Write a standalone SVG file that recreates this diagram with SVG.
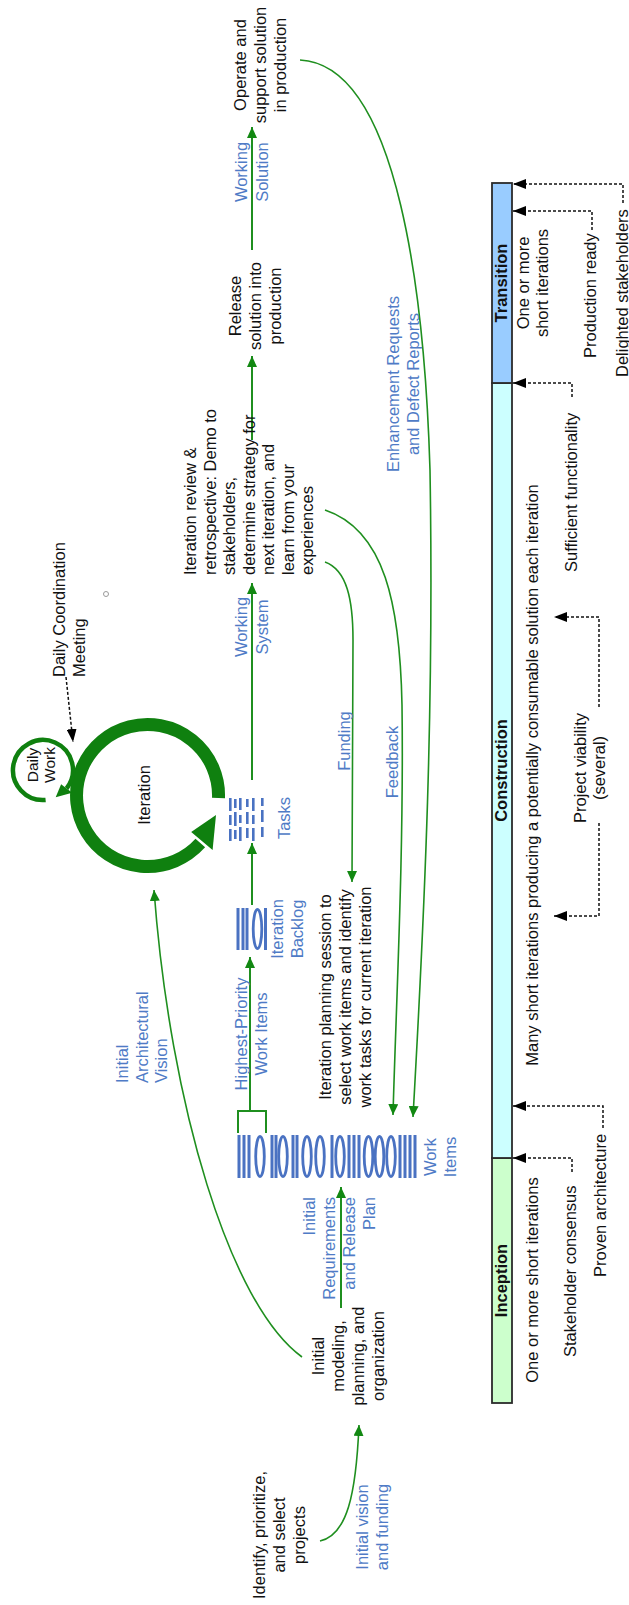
<svg xmlns="http://www.w3.org/2000/svg" width="629" height="1605" viewBox="0 0 629 1605">
<defs>
<style>
text { font-family: "Liberation Sans", Arial, sans-serif; font-size: 16.5px; fill: #111; }
.lbl { fill: #4f7bc6; }
.hdr { font-weight: bold; }
.c { text-anchor: middle; }
.e { text-anchor: end; }
.flow { fill: none; stroke: #1f8f1f; stroke-width: 2; marker-end: url(#ga); }
.curve { fill: none; stroke: #1f8f1f; stroke-width: 1.6; marker-end: url(#ga); }
.dash { fill: none; stroke: #111; stroke-width: 1.5; stroke-dasharray: 3 2; marker-end: url(#ba); }
.bar { fill: #4a72c2; }
.oval { fill: none; stroke: #4a72c2; stroke-width: 2.8; }
.phase { stroke: #2b2b2b; stroke-width: 1.8; }
.loop { fill: none; stroke: #0f800f; }
</style>
<marker id="ga" viewBox="0 0 11 10" refX="11" refY="5" markerWidth="11" markerHeight="10" markerUnits="userSpaceOnUse" orient="auto"><path d="M0,0 L11,5 L0,10 z" fill="#128812"/></marker>
<marker id="ba" viewBox="0 0 13 10" refX="13" refY="5" markerWidth="13" markerHeight="10" markerUnits="userSpaceOnUse" orient="auto"><path d="M0,0 L13,5 L0,10 z" fill="#000"/></marker>
</defs>
<rect width="629" height="1605" fill="#fff"/>

<!-- The lifecycle is laid out landscape (1605 x 629) and turned a quarter left -->
<g transform="translate(0,1605) rotate(-90)">

<g id="connectors">
  <path class="curve" d="M64,320 C70,347 110,356 180,359"/>
  <path class="curve" d="M248,302 C300,230 500,170 715,154"/>
  <path class="flow" d="M297,341 L418,341"/>
  <path fill="none" stroke="#1f8f1f" stroke-width="2" d="M472,238 L494,238 L494,266 L472,266"/>
  <path class="flow" d="M494,250 L648,250"/>
  <path class="flow" d="M700,252 L762,252"/>
  <path class="flow" d="M825,252 L1022,252"/>
  <path class="flow" d="M1165,252 L1249,252"/>
  <path class="flow" d="M1355,252 L1478,252"/>
  <path class="curve" d="M1545,300 C1540,400 1300,425 1135,430 C900,434 700,425 488,413"/>
  <path class="curve" d="M1095,325 C1075,385 1000,400 900,402 C750,404 600,396 490,393"/>
  <path class="curve" d="M1043,325 C1035,347 1005,353 965,353 L723,352"/>
  <path class="dash" d="M928,66 L863,73"/>
  <path class="dash" d="M433,572 L447,572 L447,513"/>
  <path class="dash" d="M477,603 L499,603 L499,513"/>
  <path class="dash" d="M782,599 L689,599 L689,554"/>
  <path class="dash" d="M898,599 L988,599 L988,554"/>
  <path class="dash" d="M1208,572 L1222,572 L1222,513"/>
  <path class="dash" d="M1375,592 L1394,592 L1394,513"/>
  <path class="dash" d="M1402,623 L1421,623 L1421,513"/>
</g>

<g id="identify-projects">
  <text class="c" x="70" y="265">Identify, prioritize,</text>
  <text class="c" x="70" y="285">and select</text>
  <text class="c" x="70" y="305">projects</text>
</g>
<g id="label-initial-vision">
  <text class="c lbl" x="78" y="368">Initial vision</text>
  <text class="c lbl" x="78" y="388">and funding</text>
</g>

<g id="initial-modeling">
  <text class="c" x="249" y="324">Initial</text>
  <text class="c" x="249" y="344">modeling,</text>
  <text class="c" x="249" y="364">planning, and</text>
  <text class="c" x="249" y="384">organization</text>
</g>
<g id="label-initial-requirements">
  <text class="e lbl" x="408" y="315">Initial</text>
  <text class="e lbl" x="408" y="335">Requirements</text>
  <text class="e lbl" x="408" y="355">and Release</text>
  <text class="e lbl" x="408" y="375">Plan</text>
</g>
<g id="label-architectural-vision">
  <text class="lbl" x="522" y="128">Initial</text>
  <text class="lbl" x="522" y="148">Architectural</text>
  <text class="lbl" x="522" y="167">Vision</text>
</g>

<g id="work-items">
  <rect class="bar" x="427" y="237.5" width="43" height="3"/>
  <rect class="bar" x="427" y="242.5" width="43" height="3"/>
  <rect class="bar" x="427" y="247.5" width="43" height="3"/>
  <ellipse class="oval" cx="448.5" cy="260" rx="20" ry="4.3"/>
  <rect class="bar" x="427" y="270.5" width="43" height="3"/>
  <rect class="bar" x="427" y="274.5" width="43" height="3"/>
  <ellipse class="oval" cx="448.5" cy="283" rx="20" ry="4.3"/>
  <rect class="bar" x="427" y="291.5" width="43" height="3"/>
  <rect class="bar" x="427" y="295.5" width="43" height="3"/>
  <ellipse class="oval" cx="448.5" cy="307" rx="20" ry="4.3"/>
  <ellipse class="oval" cx="448.5" cy="320" rx="20" ry="4.3"/>
  <rect class="bar" x="427" y="330.5" width="43" height="3"/>
  <ellipse class="oval" cx="448.5" cy="340" rx="20" ry="4.3"/>
  <rect class="bar" x="427" y="347.5" width="43" height="3"/>
  <rect class="bar" x="427" y="352.5" width="43" height="3"/>
  <rect class="bar" x="427" y="357.5" width="43" height="3"/>
  <ellipse class="oval" cx="448.5" cy="368.5" rx="20" ry="4.3"/>
  <ellipse class="oval" cx="448.5" cy="379.5" rx="20" ry="4.3"/>
  <ellipse class="oval" cx="448.5" cy="391" rx="20" ry="4.3"/>
  <rect class="bar" x="427" y="398.5" width="43" height="3"/>
  <rect class="bar" x="427" y="403.5" width="43" height="3"/>
  <rect class="bar" x="427" y="408.5" width="43" height="3"/>
  <rect class="bar" x="427" y="413.5" width="43" height="3"/>
  <text class="c lbl" x="448" y="436">Work</text>
  <text class="c lbl" x="448" y="456">Items</text>
</g>

<g id="label-highest-priority">
  <text class="c lbl" x="571" y="247">Highest-Priority</text>
  <text class="c lbl" x="571" y="267">Work Items</text>
</g>

<g id="planning-session">
  <text class="c" x="608" y="331">Iteration planning session to</text>
  <text class="c" x="608" y="351">select work items and identify</text>
  <text class="c" x="608" y="371">work tasks for current iteration</text>
</g>

<g id="iteration-backlog">
  <rect class="bar" x="655" y="236.5" width="42" height="3"/>
  <rect class="bar" x="655" y="241.5" width="42" height="3"/>
  <rect class="bar" x="655" y="245.5" width="42" height="3"/>
  <ellipse class="oval" cx="676" cy="257.5" rx="19.5" ry="4.3"/>
  <rect class="bar" x="655" y="264" width="42" height="3"/>
  <text class="c lbl" x="676" y="283">Iteration</text>
  <text class="c lbl" x="676" y="303">Backlog</text>
</g>

<g id="tasks">
  <rect class="bar" x="764" y="229" width="12" height="2.6"/>
  <rect class="bar" x="780" y="229" width="10" height="2.6"/>
  <rect class="bar" x="794" y="229" width="13" height="2.6"/>
  <rect class="bar" x="766" y="234" width="9" height="2.6"/>
  <rect class="bar" x="779" y="234" width="14" height="2.6"/>
  <rect class="bar" x="797" y="234" width="9" height="2.6"/>
  <rect class="bar" x="764" y="239" width="14" height="2.6"/>
  <rect class="bar" x="782" y="239" width="8" height="2.6"/>
  <rect class="bar" x="795" y="239" width="12" height="2.6"/>
  <rect class="bar" x="767" y="246" width="10" height="2.6"/>
  <rect class="bar" x="781" y="246" width="12" height="2.6"/>
  <rect class="bar" x="798" y="246" width="8" height="2.6"/>
  <rect class="bar" x="764" y="252" width="13" height="2.6"/>
  <rect class="bar" x="781" y="252" width="9" height="2.6"/>
  <rect class="bar" x="794" y="252" width="13" height="2.6"/>
  <rect class="bar" x="768" y="261" width="10" height="2.6"/>
  <rect class="bar" x="783" y="261" width="12" height="2.6"/>
  <rect class="bar" x="799" y="261" width="8" height="2.6"/>
  <text class="c lbl" x="787" y="290">Tasks</text>
</g>

<g id="iteration">
  <path class="loop" stroke-width="13" d="M807.0,218.5 A71,71 0 1 0 762.0,200.3"/>
  <path fill="#0f800f" d="M772.9,191.2 L754.9,212.6 L790,216 z"/>
  <text class="c" x="810" y="150">Iteration</text>
</g>

<g id="daily-work">
  <path class="loop" stroke-width="4.5" d="M805.1,45.6 A30,30 0 1 1 816.5,66.6"/>
  <path fill="#0f800f" d="M820.8,61.1 L812.2,72.2 L807.8,55.7 z"/>
  <text class="c" x="840" y="38" style="font-size:15.5px">Daily</text>
  <text class="c" x="840" y="55" style="font-size:15.5px">Work</text>
</g>

<g id="daily-coordination">
  <text x="928" y="65">Daily Coordination</text>
  <text x="928" y="85">Meeting</text>
</g>

<circle cx="1011" cy="106" r="2.5" fill="none" stroke="#9a9a9a" stroke-width="1"/>

<g id="label-working-system">
  <text class="c lbl" x="978" y="247">Working</text>
  <text class="c lbl" x="978" y="268">System</text>
</g>

<g id="iteration-review">
  <text x="1030" y="196">Iteration review &amp;</text>
  <text x="1030" y="215.5">retrospective: Demo to</text>
  <text x="1030" y="235">stakeholders,</text>
  <text x="1030" y="254.5">determine strategy for</text>
  <text x="1030" y="274">next iteration, and</text>
  <text x="1030" y="293.5">learn from your</text>
  <text x="1030" y="313">experiences</text>
</g>

<g id="label-funding"><text class="c lbl" x="864" y="350">Funding</text></g>
<g id="label-feedback"><text class="c lbl" x="843" y="398">Feedback</text></g>

<g id="release">
  <text class="c" x="1299" y="241">Release</text>
  <text class="c" x="1299" y="261">solution into</text>
  <text class="c" x="1299" y="281">production</text>
</g>

<g id="label-working-solution">
  <text class="c lbl" x="1433" y="247">Working</text>
  <text class="c lbl" x="1433" y="268">Solution</text>
</g>

<g id="operate">
  <text class="c" x="1540" y="246">Operate and</text>
  <text class="c" x="1540" y="266">support solution</text>
  <text class="c" x="1540" y="286">in production</text>
</g>

<g id="label-enhancement">
  <text class="c lbl" x="1221" y="399">Enhancement Requests</text>
  <text class="c lbl" x="1221" y="419">and Defect Reports</text>
</g>

<g id="phase-inception">
  <rect class="phase" x="202" y="492" width="245" height="20" fill="#ccffcc"/>
  <text class="c hdr" x="324.5" y="507">Inception</text>
  <text class="c" x="325" y="538">One or more short iterations</text>
</g>
<g id="phase-construction">
  <rect class="phase" x="447" y="492" width="775" height="20" fill="#ccffff"/>
  <text class="c hdr" x="834.5" y="507">Construction</text>
  <text class="c" x="830" y="538">Many short iterations producing a potentially consumable solution each iteration</text>
</g>
<g id="phase-transition">
  <rect class="phase" x="1222" y="492" width="200" height="20" fill="#99ccff"/>
  <text class="c hdr" x="1322" y="507">Transition</text>
  <text class="c" x="1322" y="529">One or more</text>
  <text class="c" x="1322" y="548">short iterations</text>
</g>

<g id="milestone-stakeholder-consensus"><text x="248" y="576">Stakeholder consensus</text></g>
<g id="milestone-proven-architecture"><text x="328" y="606">Proven architecture</text></g>
<g id="milestone-project-viability">
  <text class="c" x="837" y="586">Project viability</text>
  <text class="c" x="837" y="605">(several)</text>
</g>
<g id="milestone-sufficient-functionality"><text x="1033" y="577">Sufficient functionality</text></g>
<g id="milestone-production-ready"><text x="1247" y="596">Production ready</text></g>
<g id="milestone-delighted-stakeholders"><text x="1228" y="628">Delighted stakeholders</text></g>

</g>
</svg>
